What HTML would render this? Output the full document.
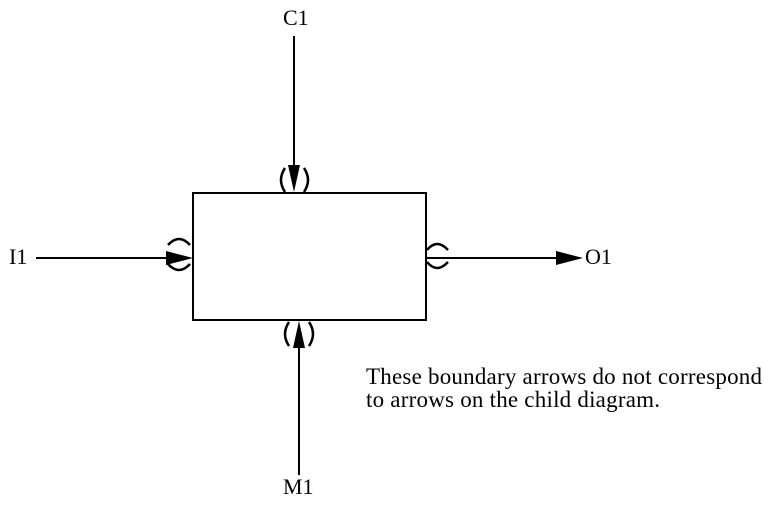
<!DOCTYPE html>
<html><head><style>body{margin:0;background:#fff}</style></head><body>
<svg width="768" height="512" xmlns="http://www.w3.org/2000/svg" style="font-family:'Liberation Serif',serif">
<rect x="193" y="193" width="233" height="127" fill="none" stroke="#000" stroke-width="2"/>
<g stroke="#000" stroke-width="2.5" fill="none">
<line x1="294" y1="36" x2="294" y2="172" stroke-width="2"/>
<line x1="299" y1="475" x2="299" y2="342" stroke-width="2"/>
<line x1="36" y1="258" x2="170" y2="258" stroke-width="2"/>
<line x1="426" y1="258" x2="560" y2="258" stroke-width="2"/>
<path d="M285 168 Q277 180 285 192"/>
<path d="M304 168 Q312 180 304 192"/>
<path d="M289 322 Q281 334 289 346"/>
<path d="M309 322 Q317 334 309 346"/>
<path d="M168 245 Q179 233 190 245"/>
<path d="M168 264 Q179 276 190 264"/>
<path d="M427 250 Q437 238 448 250"/>
<path d="M427 262 Q437 274 448 262"/>
</g>
<polygon points="288,165 300,165 294,192" fill="#000"/>
<polygon points="293,348 305,348 299,321" fill="#000"/>
<polygon points="166,251 166,265 193,258" fill="#000"/>
<polygon points="556,251 556,265 583,258" fill="#000"/>
<g font-size="22" fill="#000">
<text x="283" y="25">C1</text>
<text x="9" y="264">I1</text>
<text x="585" y="264">O1</text>
<text x="283" y="494">M1</text>
</g>
<g font-size="23" fill="#000">
<text x="366" y="384" textLength="396">These boundary arrows do not correspond</text>
<text x="366" y="407" textLength="294">to arrows on the child diagram.</text>
</g>
</svg>
</body></html>
